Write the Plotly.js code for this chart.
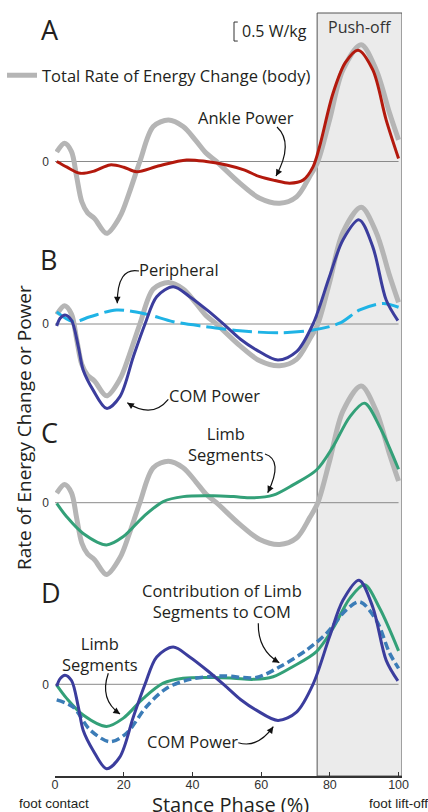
<!DOCTYPE html>
<html><head><meta charset="utf-8">
<script src="https://cdn.plot.ly/plotly-3.0.1.min.js"></script>
<style>html,body{margin:0;padding:0;background:#fff;}#chart{width:428px;height:812px;}</style>
</head><body><div id="chart"></div>
<script>
// ---- data (W/kg vs % stance) ----
const totalX = [0.5, 2.8, 4.8, 6.3, 7.8, 9.5, 11.5, 15, 18.9, 21.5, 24.7, 28.6, 33, 37.3, 41, 44, 47, 53.8, 59.6, 65.4, 70.3, 74.1, 76.5, 79.9, 83.8, 89.1, 93.5, 97.4, 100];
const totalY = [0.25, 0.48, 0.26, -0.40, -1.06, -1.35, -1.50, -1.89, -1.45, -0.85, 0, 0.92, 1.09, 0.92, 0.55, 0.22, 0, -0.57, -0.97, -1.10, -0.93, -0.40, 0, 1.09, 2.41, 3.07, 2.41, 1.27, 0.57];

const ankleX = [0.5, 3.5, 7.3, 11.5, 16, 20, 23.7, 30, 38.3, 44, 49.9, 55, 59.6, 64, 68.3, 72.2, 75.1, 77, 80.9, 84.5, 88.2, 92.5, 96.4, 100];
const ankleY = [0, -0.15, -0.31, -0.25, -0.09, -0.15, -0.27, -0.12, 0.04, 0, -0.09, -0.22, -0.40, -0.50, -0.57, -0.49, -0.14, 0.39, 1.79, 2.6, 2.93, 2.41, 1.09, 0.08];

const comX = [0.5, 1.5, 2.9, 4.8, 6.8, 8.2, 11.1, 15, 18.9, 22.8, 26.2, 29.6, 34.4, 39.2, 44.5, 49.9, 54, 58.6, 64.9, 70.3, 75.1, 79.9, 83.8, 88.5, 92.5, 96.4, 99.8];
const comY = [-0.05, 0.15, 0.24, 0.1, -0.60, -1.21, -1.74, -2.22, -1.91, -0.86, 0, 0.72, 0.98, 0.72, 0.35, -0.07, -0.4, -0.68, -0.95, -0.73, 0, 1.25, 2.21, 2.74, 2.03, 0.63, 0.09];

const periX = [0.5, 5.3, 10.2, 17.9, 26.6, 34.4, 44, 53.8, 65.4, 75.1, 82.8, 88.7, 95.4, 100];
const periY = [0.32, 0.06, 0.19, 0.37, 0.26, 0.06, -0.07, -0.18, -0.23, -0.16, 0.02, 0.37, 0.54, 0.44];

const limbX = [0.5, 3.4, 8.2, 15, 19.9, 25.7, 31.5, 37.3, 46, 52, 57.7, 63.5, 69.3, 76.1, 80.9, 85.8, 90.1, 94.5, 100];
const limbY = [-0.02, -0.37, -0.81, -1.11, -0.89, -0.37, 0.03, 0.16, 0.18, 0.16, 0.13, 0.20, 0.47, 0.86, 1.47, 2.26, 2.62, 2.0, 0.88];

const contribX = [0.5, 5.3, 10.2, 16, 20.8, 26.6, 32.4, 39.2, 48.9, 58.6, 65.4, 73.2, 79, 84.8, 88.7, 93.5, 97.4, 100];
const contribY = [-0.41, -0.6, -1.20, -1.51, -1.29, -0.59, -0.11, 0.13, 0.22, 0.18, 0.46, 0.90, 1.34, 1.96, 2.17, 1.69, 0.82, 0.42];

const xTicks = [0, 20, 40, 60, 80, 100];
const pushOff = [76.3, 101];

// ---- layout helpers ----
const W = 428, H = 812, L = 55, R = 26, T = 13, B = 36;
const PW = W - L - R, PH = H - T - B;
const K = 38; // px per W/kg
const zeroPx = {y: 161.5, y2: 324, y3: 502.7, y4: 684.3};
const px = x => (x - L) / PW;
const py = y => (H - B - y) / PH;
function yRange(z) { return [-(H - B - z) / K, (z - T) / K]; }

const GRAY = '#b5b5b5', RED = '#b3190d', BLUE = '#3b3d9d', CYAN = '#1fb3e5', GREEN = '#33a078', STEEL = '#3b7cb7';
const FONT = 'Open Sans, Noto Sans, sans-serif';
const AX_FONT = 'Liberation Sans, Arial, sans-serif';
const TXT = '#231f20';

function line(x, y, ax, color, width, extra) {
  return Object.assign({x: x, y: y, yaxis: ax, xaxis: 'x', type: 'scatter', mode: 'lines',
    line: {color: color, width: width, shape: 'spline', smoothing: 0.9}, hoverinfo: 'skip', showlegend: false}, extra || {});
}

const traces = [
  line(totalX, totalY, 'y', GRAY, 5, {name: 'Total Rate of Energy Change (body)', showlegend: true}),
  line(ankleX, ankleY, 'y', RED, 3),
  line(totalX, totalY, 'y2', GRAY, 5),
  line(periX, periY, 'y2', CYAN, 3, {line: {color: CYAN, width: 3, shape: 'spline', smoothing: 0.9, dash: '20px,6px'}}),
  line(comX, comY, 'y2', BLUE, 3),
  line(totalX, totalY, 'y3', GRAY, 5),
  line(limbX, limbY, 'y3', GREEN, 3),
  line(limbX, limbY, 'y4', GREEN, 3),
  line(contribX, contribY, 'y4', STEEL, 3.5, {line: {color: STEEL, width: 3.5, shape: 'spline', smoothing: 0.9, dash: '8px,4px'}}),
  line(comX, comY, 'y4', BLUE, 3)
];

function yax(z, overlay) {
  const a = {range: yRange(z), domain: [0, 1], showgrid: false, zeroline: false, showline: false,
    tickvals: [0], ticktext: ['0'], ticks: '', ticklabelstandoff: 5, automargin: false,
    tickfont: {family: AX_FONT, size: 12, color: '#333'}, fixedrange: true};
  if (overlay) { a.overlaying = 'y'; a.side = 'left'; a.anchor = 'x'; }
  return a;
}

const shapes = [
  {type: 'rect', xref: 'x', yref: 'paper', x0: pushOff[0], x1: pushOff[1], y0: 0, y1: 1,
   fillcolor: '#ebebeb', line: {color: '#555', width: 1}, layer: 'below'}
];
['y', 'y2', 'y3', 'y4'].forEach(a => shapes.push({type: 'line', xref: 'x', yref: a, x0: 0, x1: 100, y0: 0, y1: 0,
  line: {color: '#8a8a8a', width: 1}, layer: 'below'}));
// scale bar 0.5 W/kg
shapes.push({type: 'path', xref: 'x', yref: 'y', path: 'M53.2,3.17 L52.1,3.17 L52.1,3.67 L53.2,3.67',
  line: {color: '#333', width: 1}});

const annotations = [];
function txt(t, x, y, size, extra) {
  annotations.push(Object.assign({text: t, xref: 'paper', yref: 'paper', x: px(x), y: py(y),
    xanchor: 'center', yanchor: 'middle', showarrow: false,
    font: {family: FONT, size: size, color: TXT}}, extra || {}));
}
const LS = 16.5;
txt('A', 50, 30, 27); txt('B', 48.5, 259.5, 27); txt('C', 49, 432.5, 27); txt('D', 51, 592.5, 27);
txt('0.5 W/kg', 274, 31.5, 16);
txt('Push-off', 359.5, 27, 16, {font: {family: FONT, size: 16, color: '#333'}});
txt('Ankle Power', 245.5, 117.5, LS);
txt('Peripheral', 179, 269, LS);
txt('COM Power', 214, 395, LS);
txt('Limb<br>Segments', 225.5, 443.5, LS);
txt('Contribution of Limb<br>Segments to COM', 222, 601, LS);
txt('Limb<br>Segments', 99.5, 654, LS);
txt('COM Power', 192.5, 741.5, LS);
txt('Rate of Energy Change or Power', 24, 428, 19, {textangle: -90});
txt('Stance Phase (%)', 230, 804, 20, {yanchor: 'middle'});
txt('foot contact', 54, 803, 13.5, {font: {family: AX_FONT, size: 13.5, color: TXT}});
txt('foot lift-off', 398, 803, 13.5, {font: {family: AX_FONT, size: 13.5, color: TXT}});

// curved arrows: [tail, control, head] in px
const arrows = [
  [[277, 127], [294, 143], [276, 176]],
  [[139, 271], [117.2, 266.8], [117.3, 303.3]],
  [[168.3, 399.3], [152.2, 419], [127.3, 402.7]],
  [[265, 454], [283.7, 460], [267.7, 492.7]],
  [[258.3, 623.3], [257.8, 650.4], [279.3, 662.7]],
  [[108.3, 673.3], [99.2, 699.7], [120, 714]],
  [[238.3, 742.7], [257.6, 748.7], [273.3, 726.7]]
];
arrows.forEach(([s, c, e]) => {
  shapes.push({type: 'path', xref: 'paper', yref: 'paper',
    path: `M${px(s[0])},${py(s[1])} Q${px(c[0])},${py(c[1])} ${px(e[0])},${py(e[1])}`,
    line: {color: '#111', width: 1.2}});
  const dx = c[0] - e[0], dy = c[1] - e[1], n = Math.hypot(dx, dy) || 1;
  annotations.push({text: '', xref: 'paper', yref: 'paper', x: px(e[0]), y: py(e[1]),
    ax: dx / n * 6, ay: dy / n * 6, showarrow: true, arrowhead: 2, arrowsize: 1.1, arrowwidth: 1.2, arrowcolor: '#111'});
});

const layout = {
  width: W, height: H, margin: {l: L, r: R, t: T, b: B, autoexpand: false},
  paper_bgcolor: '#fff', plot_bgcolor: 'rgba(0,0,0,0)',
  font: {family: FONT, color: TXT},
  showlegend: true,
  legend: {x: px(2), y: py(58), xanchor: 'left', yanchor: 'top', xref: 'paper', yref: 'paper',
    bgcolor: 'rgba(0,0,0,0)', borderwidth: 0, font: {family: FONT, size: 16.5, color: TXT}},
  xaxis: {range: [0, 101], tickvals: xTicks, ticks: 'inside', ticklen: 4, tickcolor: '#333', tickwidth: 1,
    showline: true, linecolor: '#333', linewidth: 1.5, showgrid: false, zeroline: false, automargin: false,
    ticklabelstandoff: -4,
    tickfont: {family: AX_FONT, size: 12.5, color: '#333'}, fixedrange: true},
  yaxis: yax(zeroPx.y, false),
  yaxis2: yax(zeroPx.y2, true),
  yaxis3: yax(zeroPx.y3, true),
  yaxis4: yax(zeroPx.y4, true),
  shapes: shapes,
  annotations: annotations
};

Plotly.newPlot('chart', traces, layout, {displayModeBar: false, staticPlot: true});
</script></body></html>
